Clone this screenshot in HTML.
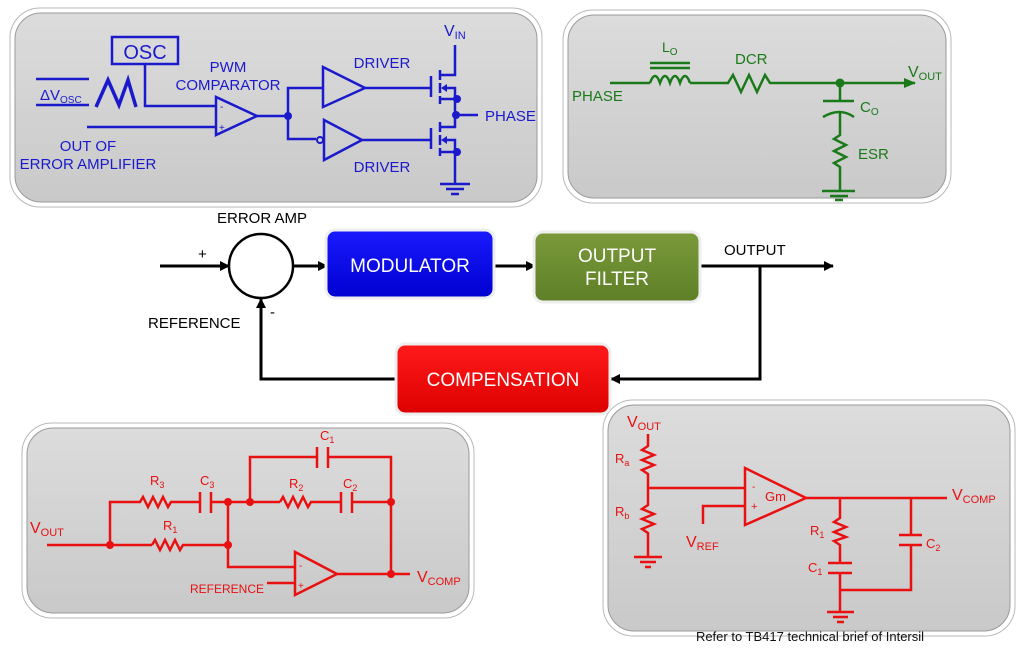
<!DOCTYPE html>
<html><head><meta charset="utf-8"><style>
html,body{margin:0;padding:0;background:#fff;}
svg{display:block;}
text{font-family:"Liberation Sans",sans-serif;}
</style></head><body>
<svg width="1024" height="659" viewBox="0 0 1024 659" xmlns="http://www.w3.org/2000/svg">
<defs>
<linearGradient id="pg" x1="0" y1="0" x2="0" y2="1"><stop offset="0" stop-color="#dcdcdc"/><stop offset="1" stop-color="#c9c9c9"/></linearGradient>
<linearGradient id="bb" x1="0" y1="0" x2="0" y2="1"><stop offset="0" stop-color="#1a1aff"/><stop offset="1" stop-color="#0000d0"/></linearGradient>
<linearGradient id="gb" x1="0" y1="0" x2="0" y2="1"><stop offset="0" stop-color="#7a9a3a"/><stop offset="1" stop-color="#5f7f28"/></linearGradient>
<linearGradient id="rb" x1="0" y1="0" x2="0" y2="1"><stop offset="0" stop-color="#ff1a1a"/><stop offset="1" stop-color="#dd0000"/></linearGradient>
<marker id="ab" markerWidth="10" markerHeight="10" refX="9" refY="5" orient="auto" markerUnits="userSpaceOnUse"><path d="M0,0 L10,5 L0,10 z" fill="#000"/></marker>
<marker id="ag" markerWidth="12" markerHeight="10" refX="11" refY="5" orient="auto" markerUnits="userSpaceOnUse"><path d="M0,0 L12,5 L0,10 z" fill="#1a7a1a"/></marker>
</defs>

<!-- panels -->
<g stroke="#b8b8b8" stroke-width="1">
<rect x="10" y="8" width="532" height="199" rx="30" fill="#fff"/>
<rect x="563" y="10" width="388" height="193" rx="30" fill="#fff"/>
<rect x="22" y="423" width="452" height="195" rx="30" fill="#fff"/>
<rect x="603" y="400" width="412" height="236" rx="30" fill="#fff"/>
</g>
<g fill="url(#pg)" stroke="#9a9a9a" stroke-width="1">
<rect x="15" y="13" width="522" height="189" rx="26"/>
<rect x="568" y="15" width="378" height="183" rx="26"/>
<rect x="27" y="428" width="442" height="185" rx="26"/>
<rect x="608" y="405" width="402" height="226" rx="26"/>
</g>

<!-- top-left blue -->
<g stroke="#1a1acc" stroke-width="2.5" fill="none">
<rect x="112" y="37" width="66" height="27"/>
<line x1="36" y1="79" x2="89" y2="79"/><line x1="36" y1="105" x2="89" y2="105"/>
<polyline points="96,107 108,80 119,105 128,80 136,107" stroke-width="3.5"/>
<polyline points="145,64 145,106 215,106"/>
<line x1="87" y1="127" x2="215" y2="127"/>
<polygon points="216,97 216,135 257,116"/>
<line x1="257" y1="116" x2="288" y2="116"/>
<polyline points="323,88 288,88 288,139 316,139"/>
<polygon points="323,67 323,107 365,88"/>
<polygon points="324,120 324,160 362,140"/>
<circle cx="320" cy="140" r="3" stroke-width="2"/>
<line x1="365" y1="88" x2="431" y2="88"/><line x1="362" y1="140" x2="431" y2="140"/>
<line x1="431" y1="76" x2="431" y2="97"/><line x1="431" y1="128" x2="431" y2="149"/>
<line x1="440" y1="70" x2="440" y2="80"/><line x1="440" y1="83" x2="440" y2="93"/><line x1="440" y1="96" x2="440" y2="104"/>
<line x1="440" y1="122" x2="440" y2="132"/><line x1="440" y1="135" x2="440" y2="145"/><line x1="440" y1="148" x2="440" y2="156"/>
<polyline points="455,45 455,75 440,75"/>
<polyline points="440,99 455,99 455,88 444,88"/>
<polyline points="440,152 455,152 455,140 444,140"/>
<polyline points="440,127 455,127 455,99"/>
<line x1="455" y1="152" x2="455" y2="183"/>
<line x1="440" y1="184" x2="470" y2="184"/><line x1="446" y1="189" x2="464" y2="189"/><line x1="451" y1="194" x2="459" y2="194"/>
<line x1="455" y1="115" x2="478" y2="115"/>
</g>
<g fill="#1a1acc">
<circle cx="288" cy="116" r="4"/><circle cx="457" cy="99" r="4"/><circle cx="456" cy="115" r="4"/><circle cx="457" cy="152" r="4"/>
<polygon points="441,88 447,84 447,92"/><polygon points="441,140 447,136 447,144"/>
<text x="145" y="59" font-size="20" text-anchor="middle">OSC</text>
<text x="40" y="100" font-size="15">ΔV<tspan font-size="10" dy="3">OSC</tspan></text>
<text x="228" y="72" font-size="15" text-anchor="middle">PWM</text>
<text x="228" y="90" font-size="15" text-anchor="middle">COMPARATOR</text>
<text x="88" y="151" font-size="15" text-anchor="middle">OUT OF</text>
<text x="88" y="169" font-size="15" text-anchor="middle">ERROR AMPLIFIER</text>
<text x="382" y="68" font-size="15" text-anchor="middle">DRIVER</text>
<text x="382" y="172" font-size="15" text-anchor="middle">DRIVER</text>
<text x="444" y="36" font-size="16">V<tspan font-size="11" dy="3">IN</tspan></text>
<text x="485" y="121" font-size="15">PHASE</text>
<text x="220" y="110" font-size="10">-</text><text x="219" y="131" font-size="10">+</text>
</g>

<!-- top-right green -->
<g stroke="#1a7a1a" stroke-width="2.5" fill="none">
<line x1="610" y1="83" x2="650" y2="83"/>
<path d="M650,83 q5,-14 10,0 q5,-14 10,0 q5,-14 10,0 q5,-14 10,0"/>
<line x1="650" y1="63" x2="690" y2="63"/><line x1="650" y1="68" x2="690" y2="68"/>
<polyline points="690,83 728,83 733,75 741,92 749,75 757,92 765,75 770,83 838,83"/>
<line x1="840" y1="83" x2="915" y2="83" marker-end="url(#ag)"/>
<line x1="840" y1="83" x2="840" y2="101"/>
<line x1="823" y1="101" x2="854" y2="101"/>
<path d="M823,117 q17,-10 31,0"/>
<polyline points="840,112 840,135 834,139 846,145 834,151 846,157 834,163 840,167 840,190"/>
<line x1="822" y1="191" x2="855" y2="191"/><line x1="830" y1="196" x2="848" y2="196"/><line x1="835" y1="200" x2="843" y2="200"/>
</g>
<g fill="#1a7a1a">
<circle cx="840" cy="83" r="4.5"/>
<text x="572" y="101" font-size="15">PHASE</text>
<text x="662" y="52" font-size="14">L<tspan font-size="10" dy="3">O</tspan></text>
<text x="735" y="64" font-size="15">DCR</text>
<text x="908" y="77" font-size="16">V<tspan font-size="11" dy="3">OUT</tspan></text>
<text x="860" y="112" font-size="15">C<tspan font-size="10" dy="3">O</tspan></text>
<text x="858" y="159" font-size="15">ESR</text>
</g>

<!-- middle block diagram -->
<g stroke="#000" stroke-width="3" fill="none">
<circle cx="261" cy="266" r="32" stroke-width="2.5"/>
<line x1="160" y1="266" x2="229" y2="266" marker-end="url(#ab)"/>
<line x1="293" y1="266" x2="327" y2="266" marker-end="url(#ab)"/>
<line x1="492" y1="266" x2="535" y2="266" marker-end="url(#ab)"/>
<line x1="698" y1="266" x2="833" y2="266" marker-end="url(#ab)"/>
<polyline points="760,266 760,379 611,379" marker-end="url(#ab)"/>
<polyline points="398,379 261,379 261,299" marker-end="url(#ab)"/>
</g>
<rect x="326" y="230" width="168" height="68" rx="9" fill="url(#bb)" stroke="#eee" stroke-width="3"/>
<rect x="534" y="232" width="166" height="70" rx="9" fill="url(#gb)" stroke="#eee" stroke-width="3"/>
<rect x="396" y="344" width="214" height="70" rx="9" fill="url(#rb)" stroke="#eee" stroke-width="3"/>
<g fill="#fff" font-size="19" text-anchor="middle">
<text x="410" y="272">MODULATOR</text>
<text x="617" y="262">OUTPUT</text><text x="617" y="285">FILTER</text>
<text x="503" y="386">COMPENSATION</text>
</g>
<g fill="#000" font-size="15">
<text x="262" y="223" text-anchor="middle">ERROR AMP</text>
<text x="198" y="259">+</text>
<text x="148" y="328">REFERENCE</text>
<text x="270" y="317">-</text>
<text x="724" y="255">OUTPUT</text>
</g>

<!-- bottom-left red -->
<g stroke="#e81010" stroke-width="2.5" fill="none">
<line x1="47" y1="545" x2="152" y2="545"/>
<polyline points="152,545 155,540 160,550 165,540 170,550 175,540 180,550 183,545 228,545"/>
<polyline points="110,545 110,502 140,502 143,497 148,507 153,497 158,507 163,497 168,507 171,502 200,502"/>
<line x1="200" y1="492" x2="200" y2="513"/><line x1="211" y1="492" x2="211" y2="513"/>
<line x1="211" y1="502" x2="280" y2="502"/>
<polyline points="228,502 228,567 295,567"/>
<polyline points="280,502 283,497 288,507 293,497 298,507 303,497 308,507 311,502 341,502"/>
<line x1="341" y1="492" x2="341" y2="513"/><line x1="352" y1="492" x2="352" y2="513"/>
<line x1="352" y1="502" x2="391" y2="502"/>
<polyline points="250,502 250,457 317,457"/>
<line x1="317" y1="447" x2="317" y2="468"/><line x1="328" y1="447" x2="328" y2="468"/>
<polyline points="328,457 391,457 391,574"/>
<polygon points="295,552 295,595 337,574"/>
<line x1="337" y1="574" x2="410" y2="574"/>
<line x1="267" y1="583" x2="295" y2="583"/>
</g>
<g fill="#e81010">
<circle cx="110" cy="545" r="4"/><circle cx="228" cy="545" r="4"/><circle cx="228" cy="502" r="4"/><circle cx="250" cy="502" r="4"/><circle cx="391" cy="502" r="4"/><circle cx="391" cy="574" r="4"/>
<text x="30" y="533" font-size="16">V<tspan font-size="11" dy="3">OUT</tspan></text>
<text x="150" y="485" font-size="13">R<tspan font-size="9" dy="3">3</tspan></text>
<text x="200" y="485" font-size="13">C<tspan font-size="9" dy="3">3</tspan></text>
<text x="163" y="530" font-size="13">R<tspan font-size="9" dy="3">1</tspan></text>
<text x="289" y="488" font-size="13">R<tspan font-size="9" dy="3">2</tspan></text>
<text x="343" y="488" font-size="13">C<tspan font-size="9" dy="3">2</tspan></text>
<text x="320" y="440" font-size="13">C<tspan font-size="9" dy="3">1</tspan></text>
<text x="299" y="569" font-size="10">-</text><text x="298" y="589" font-size="10">+</text>
<text x="190" y="593" font-size="12">REFERENCE</text>
<text x="417" y="582" font-size="16">V<tspan font-size="11" dy="3">COMP</tspan></text>
</g>

<!-- bottom-right red -->
<g stroke="#e81010" stroke-width="2.5" fill="none">
<polyline points="648,434 648,446 642,450 654,455 642,460 654,465 642,470 648,474 648,505 642,509 654,514 642,519 654,524 642,529 648,533 648,557"/>
<line x1="634" y1="557" x2="662" y2="557"/><line x1="640" y1="562" x2="656" y2="562"/><line x1="645" y1="567" x2="651" y2="567"/>
<line x1="648" y1="488" x2="745" y2="488"/>
<polyline points="703,524 703,506 745,506"/>
<polygon points="745,468 745,525 806,498"/>
<line x1="806" y1="498" x2="947" y2="498"/>
<polyline points="840,498 840,518 834,522 846,527 834,532 846,537 834,541 840,545 840,563"/>
<line x1="828" y1="563" x2="852" y2="563"/><line x1="828" y1="573" x2="852" y2="573"/>
<line x1="840" y1="573" x2="840" y2="611"/>
<polyline points="840,590 911,590 911,545"/>
<line x1="899" y1="545" x2="922" y2="545"/><line x1="899" y1="535" x2="922" y2="535"/>
<line x1="911" y1="535" x2="911" y2="498"/>
<line x1="827" y1="612" x2="854" y2="612"/><line x1="833" y1="617" x2="848" y2="617"/><line x1="837" y1="622" x2="844" y2="622"/>
</g>
<g fill="#e81010">
<text x="627" y="427" font-size="16">V<tspan font-size="11" dy="3">OUT</tspan></text>
<text x="615" y="463" font-size="13">R<tspan font-size="9" dy="3">a</tspan></text>
<text x="615" y="516" font-size="13">R<tspan font-size="9" dy="3">b</tspan></text>
<text x="752" y="490" font-size="10">-</text><text x="751" y="510" font-size="11">+</text>
<text x="765" y="501" font-size="13">Gm</text>
<text x="686" y="547" font-size="16">V<tspan font-size="11" dy="3">REF</tspan></text>
<text x="952" y="500" font-size="16">V<tspan font-size="11" dy="3">COMP</tspan></text>
<text x="810" y="535" font-size="13">R<tspan font-size="9" dy="3">1</tspan></text>
<text x="808" y="572" font-size="13">C<tspan font-size="9" dy="3">1</tspan></text>
<text x="926" y="548" font-size="13">C<tspan font-size="9" dy="3">2</tspan></text>
</g>
<text x="810" y="641" font-size="13" text-anchor="middle" fill="#111">Refer to TB417 technical brief of Intersil</text>
</svg>
</body></html>
